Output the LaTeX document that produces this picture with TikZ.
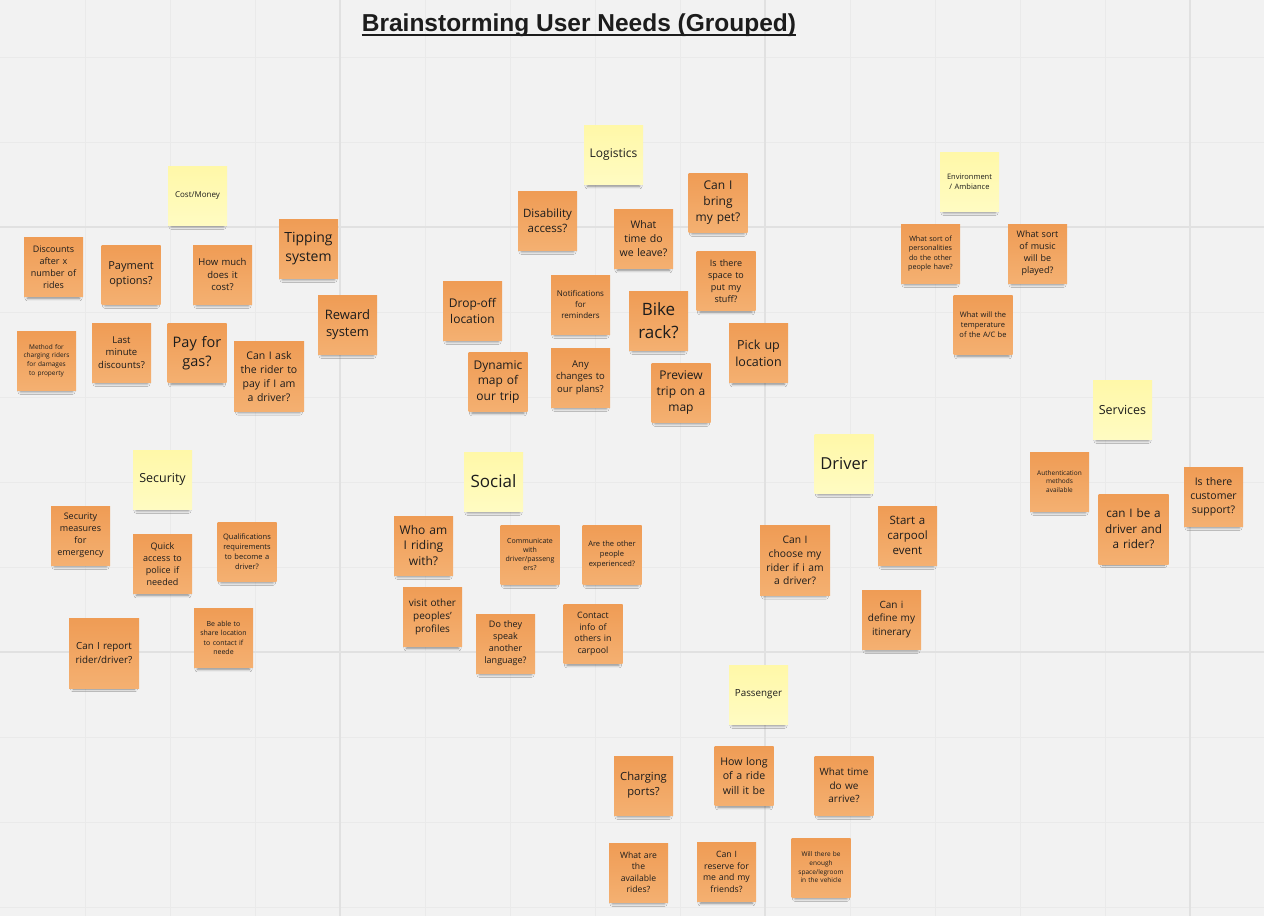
\documentclass[tikz,border=0pt]{standalone}
\usepackage{fontspec}
\setmainfont{Open Sans}
\newfontfamily\titlefont{Liberation Sans}
\usetikzlibrary{shadows.blur}

\definecolor{board}{HTML}{F2F2F2}
\definecolor{gridthin}{HTML}{EAEAEA}
\definecolor{gridthick}{HTML}{E1E1E1}
\definecolor{orangetop}{HTML}{EF9C55}
\definecolor{orangebot}{HTML}{F4B071}
\definecolor{yellowtop}{HTML}{FFF8A8}
\definecolor{yellowbot}{HTML}{FFFBC2}
\definecolor{ink}{HTML}{1C1C1C}

\def\notesize{59pt}
\def\bignotesize{70pt}
\newcommand\nfs[1]{\fontsize{#1pt}{\dimexpr #1pt*133/100\relax}\selectfont}

\begin{document}
\begin{tikzpicture}[x=1pt,y=-1pt]
    \tikzstyle{note}=[rectangle,minimum width=\notesize,minimum height=\notesize,
        inner sep=0pt,text width=51pt,align=center,text=ink,
        blur shadow={shadow xshift=0pt,shadow yshift=-6pt,shadow scale=0.88,
        shadow blur radius=3pt,shadow opacity=45}]
    \tikzstyle{orange note}=[note,top color=orangetop,bottom color=orangebot]
    \tikzstyle{yellow note}=[note,top color=yellowtop,bottom color=yellowbot]
    \tikzstyle{big note}=[minimum width=\bignotesize,minimum height=\bignotesize,text width=62pt]

    % Draw the board and its grid
    \useasboundingbox[fill=board] (0,0) rectangle (1264,916);
    \foreach \x in {85,170,...,1190}
        \draw[gridthin,line width=1pt] (\x,0) -- (\x,916);
    \foreach \y in {57,142,...,907}
        \draw[gridthin,line width=1pt] (0,\y) -- (1264,\y);
    \foreach \x in {340,765,1190}
        \draw[gridthick,line width=1.6pt] (\x,0) -- (\x,916);
    \foreach \y in {227,652}
        \draw[gridthick,line width=1.6pt] (0,\y) -- (1264,\y);

    % Title
    \node[font=\titlefont\bfseries\fontsize{24.5pt}{29pt}\selectfont,text=ink,inner sep=0pt,anchor=base]
        (title) at (579,31) {Brainstorming User Needs (Grouped)};
    \draw[ink,line width=2pt] ([yshift=-3.5pt]title.base west) -- ([yshift=-3.5pt]title.base east);

    % Cost / money group
    \node[yellow note,font=\nfs{8}] (C-0) at (197.5,195.5) {Cost/Money};
    \node[orange note,font=\nfs{9}] (C-1) at (53.5,267) {Discounts\\after x\\number of\\rides};
    \node[orange note,font=\nfs{11}] (C-2) at (131,274.5) {Payment\\options?};
    \node[orange note,font=\nfs{9.5}] (C-3) at (222.5,274.5) {How much\\does it\\cost?};
    \node[orange note,font=\nfs{14}] (C-4) at (308.5,248.5) {Tipping\\system};
    \node[orange note,font=\nfs{13}] (C-5) at (347.5,324.5) {Reward\\system};
    \node[orange note,font=\nfs{6.5}] (C-6) at (46.5,360.5) {Method for\\charging riders\\for damages\\to property};
    \node[orange note,font=\nfs{9.5}] (C-7) at (121.5,352.5) {Last\\minute\\discounts?};
    \node[orange note,font=\nfs{14.5}] (C-8) at (197,353) {Pay for\\gas?};
    \node[orange note,big note,font=\nfs{10.5}] (C-9) at (269,376.5) {Can I ask\\the rider to\\pay if I am\\a driver?};

    % Logistics group
    \node[yellow note,font=\nfs{12}] (L-0) at (613.5,155) {Logistics};
    \node[orange note,font=\nfs{12}] (L-1) at (718,202.5) {Can I\\bring\\my pet?};
    \node[orange note,font=\nfs{11.5}] (L-2) at (547.5,220.5) {Disability\\access?};
    \node[orange note,font=\nfs{10.5}] (L-3) at (643.5,239) {What\\time do\\we leave?};
    \node[orange note,font=\nfs{9}] (L-4) at (726,281) {Is there\\space to\\put my\\stuff?};
    \node[orange note,font=\nfs{12}] (L-5) at (472.5,310.5) {Drop-off\\location};
    \node[orange note,font=\nfs{8}] (L-6) at (580.5,304.5) {Notifications\\for\\reminders};
    \node[orange note,font=\nfs{17}] (L-7) at (658.5,320.5) {Bike\\rack?};
    \node[orange note,font=\nfs{12.5}] (L-8) at (758.5,353) {Pick up\\location};
    \node[orange note,font=\nfs{12}] (L-9) at (498,382) {Dynamic\\map of\\our trip};
    \node[orange note,font=\nfs{9.5}] (L-10) at (580.5,377.5) {Any\\changes to\\our plans?};
    \node[orange note,font=\nfs{12}] (L-11) at (681,392.5) {Preview\\trip on a\\map};

    % Environment / ambiance group
    \node[yellow note,font=\nfs{7.5}] (E-0) at (969.5,181.5) {Environment\\/ Ambiance};
    \node[orange note,font=\nfs{7.2}] (E-1) at (930.5,253.5) {What sort of\\personalities\\do the other\\people have?};
    \node[orange note,font=\nfs{9}] (E-2) at (1037.5,253.5) {What sort\\of music\\will be\\played?};
    \node[orange note,font=\nfs{7.5}] (E-3) at (983,325) {What will the\\temperature\\of the A/C be};

    % Security group
    \node[yellow note,font=\nfs{12.5}] (S-0) at (162.5,479.5) {Security};
    \node[orange note,font=\nfs{9}] (S-1) at (80.5,535.5) {Security\\measures\\for\\emergency};
    \node[orange note,font=\nfs{9}] (S-2) at (162.5,564) {Quick\\access to\\police if\\needed};
    \node[orange note,font=\nfs{7.5}] (S-3) at (247,551.5) {Qualifications\\requirements\\to become a\\driver?};
    \node[orange note,big note,font=\nfs{9.8}] (S-4) at (104,653) {Can I report\\rider/driver?};
    \node[orange note,font=\nfs{7}] (S-5) at (223.5,638) {Be able to\\share location\\to contact if\\neede};

    % Social group
    \node[yellow note,font=\nfs{17}] (So-0) at (493.5,481.5) {Social};
    \node[orange note,font=\nfs{12}] (So-1) at (423.5,545.5) {Who am\\I riding\\with?};
    \node[orange note,font=\nfs{7}] (So-2) at (530,554.5) {Communicate\\with\\driver/passeng\\ers?};
    \node[orange note,font=\nfs{7.5}] (So-3) at (612,554.5) {Are the other\\people\\experienced?};
    \node[orange note,font=\nfs{10}] (So-4) at (432.5,617) {visit other\\peoples'\\profiles};
    \node[orange note,font=\nfs{9}] (So-5) at (505.5,643.5) {Do they\\speak\\another\\language?};
    \node[orange note,font=\nfs{8.8}] (So-6) at (593,634) {Contact\\info of\\others in\\carpool};

    % Driver group
    \node[yellow note,font=\nfs{16.5}] (D-0) at (844,463.5) {Driver};
    \node[orange note,font=\nfs{11.5}] (D-1) at (907.5,535.5) {Start a\\carpool\\event};
    \node[orange note,big note,font=\nfs{10.3}] (D-2) at (795,560.5) {Can I\\choose my\\rider if i am\\a driver?};
    \node[orange note,font=\nfs{10}] (D-3) at (891.5,619.5) {Can i\\define my\\itinerary};

    % Services group
    \node[yellow note,font=\nfs{12.5}] (Sv-0) at (1122.5,409.5) {Services};
    \node[orange note,font=\nfs{6.5}] (Sv-1) at (1059.5,481.5) {Authentication\\methods\\available};
    \node[orange note,font=\nfs{10.5}] (Sv-2) at (1213.5,496.5) {Is there\\customer\\support?};
    \node[orange note,big note,font=\nfs{11.7}] (Sv-3) at (1133.5,529) {can I be a\\driver and\\a rider?};

    % Passenger group
    \node[yellow note,font=\nfs{9.8}] (P-0) at (758.5,694.5) {Passenger};
    \node[orange note,font=\nfs{11.2}] (P-1) at (643.5,785.5) {Charging\\ports?};
    \node[orange note,font=\nfs{10.6}] (P-2) at (744,776) {How long\\of a ride\\will it be};
    \node[orange note,font=\nfs{10}] (P-3) at (844,785.5) {What time\\do we\\arrive?};
    \node[orange note,font=\nfs{8.6}] (P-4) at (638.5,872.5) {What are\\the\\available\\rides?};
    \node[orange note,font=\nfs{8.7}] (P-5) at (726.5,872) {Can I\\reserve for\\me and my\\friends?};
    \node[orange note,font=\nfs{6.5}] (P-6) at (821,867.5) {Will there be\\enough\\space/legroom\\in the vehicle};
\end{tikzpicture}
\end{document}
